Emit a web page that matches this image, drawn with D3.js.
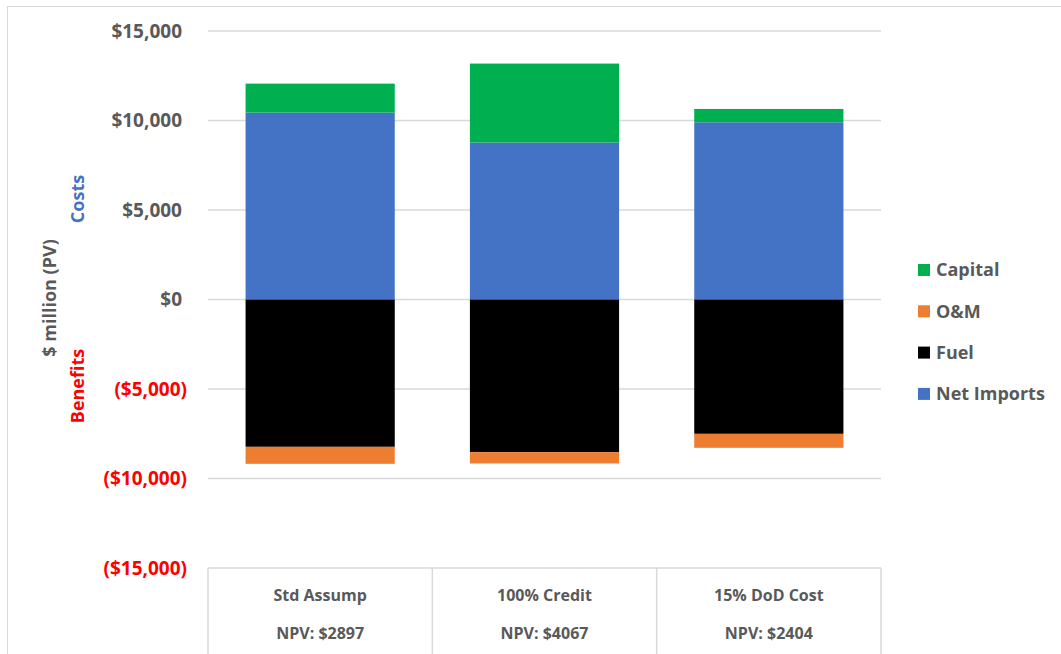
<!DOCTYPE html>
<html>
<head>
<meta charset="utf-8">
<script src="https://cdn.jsdelivr.net/npm/d3@7"></script>
<style>
  html, body { margin: 0; padding: 0; background: #fff; }
  svg { display: block; font-family: "Open Sans", "Noto Sans", sans-serif; }
</style>
</head>
<body>
<svg id="chart" width="1061" height="654"></svg>
<script>
// ---- data ----
const categories = ["Std Assump", "100% Credit", "15% DoD Cost"];
const npvLabels = ["NPV: $2897", "NPV: $4067", "NPV: $2404"];
const netImports = [10440, 8770, 9900];
const capital = [1620, 4410, 745];
const fuel = [-8230, -8530, -7505];
const om = [-950, -630, -780];
const yTicks = [15000, 10000, 5000, 0, -5000, -10000, -15000];
const seriesNames = ["Net Imports", "Fuel", "O&M", "Capital"];
const seriesColors = ["#4472C4", "#000000", "#ED7D31", "#00B050"];
const legendOrder = ["Capital", "O&M", "Fuel", "Net Imports"];

const svg = d3.select("#chart");
const plot = { left: 208, right: 881, top: 31, bottom: 568 };

const x = d3.scaleBand().domain(categories).range([plot.left, plot.right])
  .paddingInner(0.335).paddingOuter(0.1675);
const xCat = d3.scaleBand().domain(categories).range([plot.left, plot.right]).padding(0);
const y = d3.scaleLinear().domain([-15000, 15000]).range([plot.bottom, plot.top]);

// outer chart border
svg.append("rect").attr("x", 7.5).attr("y", 6.5).attr("width", 1060).attr("height", 670)
  .attr("fill", "none").attr("stroke", "#d9d9d9").attr("stroke-width", 1);

// gridlines
svg.append("g").selectAll("line").data(yTicks.filter(d => d !== -15000)).join("line")
  .attr("x1", plot.left).attr("x2", plot.right)
  .attr("y1", d => y(d)).attr("y2", d => y(d))
  .attr("stroke", "#d9d9d9").attr("stroke-width", 1.5);

// y tick labels
const fmt = d3.format(",");
svg.append("g").selectAll("text").data(yTicks).join("text")
  .attr("x", d => d >= 0 ? 182 : 187)
  .attr("y", d => y(d))
  .attr("dy", "0.36em")
  .attr("text-anchor", "end")
  .attr("font-size", 19).attr("font-weight", 700)
  .attr("fill", d => d >= 0 ? "#595959" : "#FF0000")
  .text(d => d >= 0 ? "$" + fmt(d) : "($" + fmt(-d) + ")");

// stacked bars
const rows = categories.map((c, i) => ({ cat: c, vals: [netImports[i], fuel[i], om[i], capital[i]] }));
const barG = svg.append("g");
rows.forEach(r => {
  let pos = 0, neg = 0;
  r.vals.forEach((v, si) => {
    let y0, y1;
    if (v >= 0) { y0 = pos; y1 = pos + v; pos = y1; }
    else { y0 = neg; y1 = neg + v; neg = y1; }
    barG.append("rect")
      .attr("x", x(r.cat)).attr("width", x.bandwidth())
      .attr("y", y(Math.max(y0, y1)))
      .attr("height", Math.abs(y(y0) - y(y1)))
      .attr("fill", seriesColors[si]);
  });
});

// category axis table
const axisG = svg.append("g");
axisG.append("line").attr("x1", plot.left).attr("x2", plot.right)
  .attr("y1", plot.bottom).attr("y2", plot.bottom)
  .attr("stroke", "#d9d9d9").attr("stroke-width", 1.5);
const seps = categories.map(c => xCat(c)).concat([plot.right]);
axisG.selectAll("line.sep").data(seps).join("line").attr("class", "sep")
  .attr("x1", d => d).attr("x2", d => d)
  .attr("y1", plot.bottom).attr("y2", 660)
  .attr("stroke", "#d9d9d9").attr("stroke-width", 1.5);
axisG.selectAll("text.cat").data(categories).join("text").attr("class", "cat")
  .attr("x", d => xCat(d) + xCat.bandwidth() / 2).attr("y", 595)
  .attr("dy", "0.35em").attr("text-anchor", "middle")
  .attr("font-size", 16).attr("font-weight", 700).attr("fill", "#595959")
  .text(d => d);
axisG.selectAll("text.npv").data(categories).join("text").attr("class", "npv")
  .attr("x", d => xCat(d) + xCat.bandwidth() / 2).attr("y", 633)
  .attr("dy", "0.35em").attr("text-anchor", "middle")
  .attr("font-size", 16).attr("font-weight", 700).attr("fill", "#595959")
  .text((d, i) => npvLabels[i]);

// axis titles
svg.append("text").attr("transform", "translate(56,298) rotate(-90)")
  .attr("text-anchor", "middle").attr("font-size", 18).attr("font-weight", 700)
  .attr("fill", "#595959").text("$ million (PV)");
svg.append("text").attr("transform", "translate(84,199) rotate(-90)")
  .attr("text-anchor", "middle").attr("font-size", 18).attr("font-weight", 700)
  .attr("fill", "#4472C4").text("Costs");
svg.append("text").attr("transform", "translate(84,386) rotate(-90)")
  .attr("text-anchor", "middle").attr("font-size", 18).attr("font-weight", 700)
  .attr("fill", "#FF0000").text("Benefits");

// legend
const legend = svg.append("g");
legendOrder.forEach((name, i) => {
  const yy = 270 + i * 41.3;
  const ci = seriesNames.indexOf(name);
  legend.append("rect").attr("x", 918).attr("y", yy - 6).attr("width", 12).attr("height", 12)
    .attr("fill", seriesColors[ci]);
  legend.append("text").attr("x", 936).attr("y", yy).attr("dy", "0.36em")
    .attr("font-size", 18).attr("font-weight", 700).attr("fill", "#595959").text(name);
});
</script>
</body>
</html>
